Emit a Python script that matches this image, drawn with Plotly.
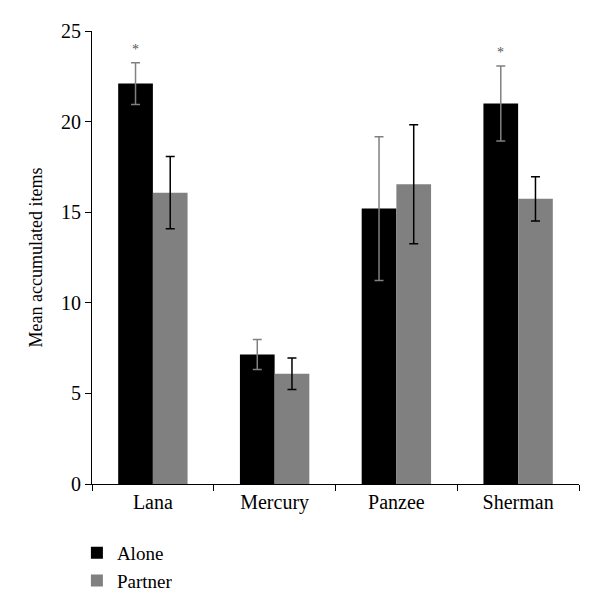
import plotly.graph_objects as go

categories = ["Lana", "Mercury", "Panzee", "Sherman"]
alone = [22.1, 7.15, 15.2, 21.0]
alone_err = [1.15, 0.83, 3.97, 2.07]
partner = [16.08, 6.08, 16.54, 15.74]
partner_err = [2.0, 0.87, 3.28, 1.22]
significant = [True, False, False, True]

FONT = "Liberation Serif"
BARGAP = 0.43

fig = go.Figure()
fig.add_trace(go.Bar(
    name="Alone", x=categories, y=alone, marker=dict(color="#000000", line=dict(width=0)),
    error_y=dict(type="data", array=alone_err, color="#808080", thickness=1.5, width=4.5),
))
fig.add_trace(go.Bar(
    name="Partner", x=categories, y=partner, marker=dict(color="#808080", line=dict(width=0)),
    error_y=dict(type="data", array=partner_err, color="#000000", thickness=1.5, width=4.5),
))

bar_w = (1 - BARGAP) / 2
for i, sig in enumerate(significant):
    if sig:
        fig.add_annotation(x=i - bar_w / 2, y=alone[i] + alone_err[i], text="*",
                           showarrow=False, yanchor="bottom", yshift=4,
                           font=dict(family=FONT, size=14, color="#555555"))

fig.update_layout(
    width=600, height=614,
    margin=dict(l=84, r=29, t=23, b=138),
    paper_bgcolor="white", plot_bgcolor="white",
    barmode="group", bargap=BARGAP, bargroupgap=0,
    font=dict(family=FONT, size=18, color="#000000"),
    showlegend=True,
    legend=dict(x=-0.031, y=-0.110, xanchor="left", yanchor="top", orientation="v",
                font=dict(family=FONT, size=19), tracegroupgap=1, itemwidth=30),
)
fig.update_xaxes(showline=True, linecolor="#000000", linewidth=1.2, ticks="outside",
                 tickson="boundaries", ticklen=6, tickcolor="#000000", showgrid=False,
                 automargin=False, tickfont=dict(family=FONT, size=20))
fig.update_yaxes(range=[0, 25], dtick=5, showline=True, linecolor="#000000", linewidth=1.2,
                 ticks="outside", ticklen=6, tickcolor="#000000", showgrid=False, zeroline=False,
                 automargin=False, tickfont=dict(family=FONT, size=20),
                 title=dict(text="Mean accumulated items", font=dict(family=FONT, size=18), standoff=13))

fig.write_html("out.html")
